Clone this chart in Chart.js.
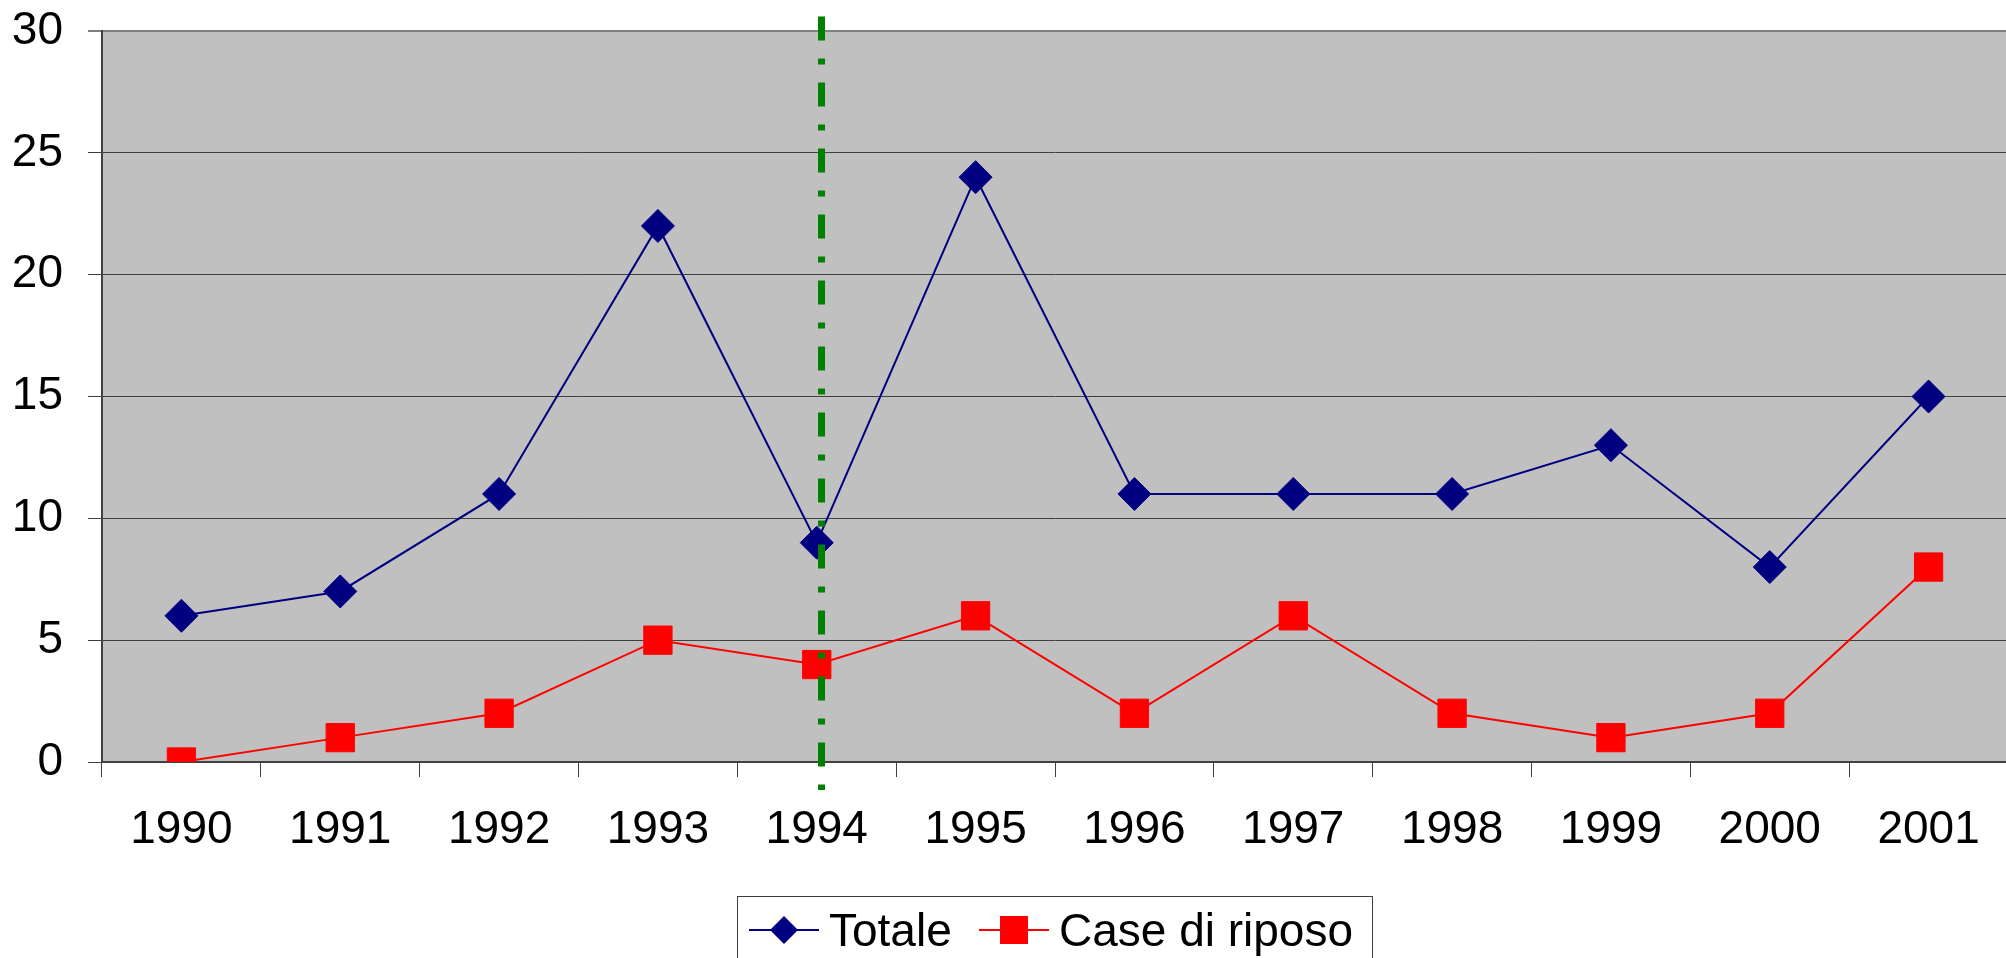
<!DOCTYPE html>
<html>
<head>
<meta charset="utf-8">
<script src="https://cdn.jsdelivr.net/npm/chart.js@4"></script>
<style>
  html, body { margin: 0; padding: 0; background: #fff; overflow: hidden; }
  #wrap { width: 2008px; height: 958px; }
</style>
</head>
<body>
<div id="wrap"><canvas id="chart" width="2008" height="958"></canvas></div>
<script>
// Data
const years = ['1990', '1991', '1992', '1993', '1994', '1995', '1996', '1997', '1998', '1999', '2000', '2001'];
const totale = [6, 7, 11, 22, 9, 24, 11, 11, 11, 13, 8, 15];
const caseRiposo = [0, 1, 2, 5, 4, 6, 2, 6, 2, 1, 2, 8];
const yTicks = [0, 5, 10, 15, 20, 25, 30];

// vertical marker near 1994 (category units) and its vertical extent (value units)
const markerPos = 4.03;
const markerFrom = 30.6;
const markerTo = -1.15;

const FONT = '"Liberation Sans", Arial, sans-serif';

// grey plot area
const plotBackground = {
    id: 'plotBackground',
    beforeDraw(chart) {
        const { ctx, chartArea: a } = chart;
        ctx.save();
        ctx.fillStyle = '#c0c0c0';
        ctx.fillRect(a.left, a.top, a.right - a.left, a.bottom - a.top);
        ctx.restore();
    }
};

// green dash-dot line
const markerLine = {
    id: 'markerLine',
    afterDatasetsDraw(chart) {
        const { ctx, scales: { x, y } } = chart;
        const px = x.getPixelForValue(markerPos);
        ctx.save();
        ctx.strokeStyle = '#008000';
        ctx.lineWidth = 7;
        ctx.lineCap = 'butt';
        ctx.setLineDash([24, 18, 6, 18]);
        ctx.beginPath();
        ctx.moveTo(px, y.getPixelForValue(markerFrom));
        ctx.lineTo(px, y.getPixelForValue(markerTo));
        ctx.stroke();
        ctx.restore();
    }
};

// boxed legend at the bottom, Excel style (line + marker + text)
const boxLegend = {
    id: 'boxLegend',
    afterDraw(chart) {
        const { ctx } = chart;
        const box = { left: 737, top: 896, right: 1372, bottom: 975 };
        const rowY = 930;
        const items = [
            { x: 749, ds: chart.data.datasets[0], r: 14 },
            { x: 979, ds: chart.data.datasets[1], r: 14 }
        ];
        ctx.save();
        ctx.strokeStyle = '#404040';
        ctx.lineWidth = 1;
        ctx.strokeRect(box.left + 0.5, box.top + 0.5, box.right - box.left, box.bottom - box.top);

        items.forEach(it => {
            const c = it.ds.borderColor;
            const cx = it.x + 35;
            ctx.strokeStyle = c;
            ctx.lineWidth = 2;
            ctx.beginPath();
            ctx.moveTo(it.x, rowY);
            ctx.lineTo(it.x + 70, rowY);
            ctx.stroke();

            ctx.fillStyle = c;
            ctx.beginPath();
            if (it.ds.pointStyle === 'rectRot') {
                ctx.moveTo(cx - it.r, rowY);
                ctx.lineTo(cx, rowY - it.r);
                ctx.lineTo(cx + it.r, rowY);
                ctx.lineTo(cx, rowY + it.r);
            } else {
                ctx.rect(cx - it.r, rowY - it.r, 2 * it.r, 2 * it.r);
            }
            ctx.fill();

            ctx.fillStyle = '#000';
            ctx.font = '46px ' + FONT;
            ctx.textBaseline = 'alphabetic';
            ctx.fillText(it.ds.label, it.x + 80, 946);
        });
        ctx.restore();
    }
};

new Chart(document.getElementById('chart'), {
    type: 'line',
    data: {
        labels: years,
        datasets: [{
            label: 'Totale',
            data: totale,
            borderColor: '#000080',
            backgroundColor: '#000080',
            borderWidth: 2,
            pointStyle: 'rectRot',
            pointRadius: 16.5,
            pointBorderWidth: 1,
            tension: 0
        }, {
            label: 'Case di riposo',
            data: caseRiposo,
            borderColor: '#ff0000',
            backgroundColor: '#ff0000',
            borderWidth: 2,
            pointStyle: 'rect',
            pointRadius: 20,
            pointBorderWidth: 1,
            tension: 0
        }]
    },
    options: {
        responsive: false,
        animation: false,
        devicePixelRatio: 1,
        layout: { autoPadding: false, padding: { top: 31, left: 0, right: 0, bottom: 0 } },
        plugins: {
            legend: { display: false },
            tooltip: { enabled: false }
        },
        scales: {
            x: {
                offset: true,
                grid: {
                    offset: true,
                    drawOnChartArea: false,
                    color: '#404040',
                    tickLength: 15,
                    lineWidth: 1
                },
                border: { color: '#404040', width: 2 },
                ticks: {
                    color: '#000',
                    padding: 26,
                    maxRotation: 0,
                    font: { family: FONT, size: 46 }
                },
                afterFit(scale) {
                    scale.height = 196;
                    scale.paddingLeft = 0;
                    scale.paddingRight = 0;
                }
            },
            y: {
                min: 0,
                max: 30,
                afterBuildTicks(scale) { scale.ticks = yTicks.map(v => ({ value: v })); },
                grid: {
                    color: ctx => ctx.tick && ctx.tick.value === 30 ? '#808080' : '#404040',
                    lineWidth: ctx => ctx.tick && ctx.tick.value === 30 ? 2 : 1,
                    tickLength: 14
                },
                border: { color: '#404040', width: 2 },
                ticks: {
                    color: '#000',
                    padding: 25,
                    font: { family: FONT, size: 46 }
                },
                afterFit(scale) {
                    scale.width = 102;
                    scale.paddingTop = 0;
                    scale.paddingBottom = 0;
                }
            }
        }
    },
    plugins: [plotBackground, markerLine, boxLegend]
});
</script>
</body>
</html>
